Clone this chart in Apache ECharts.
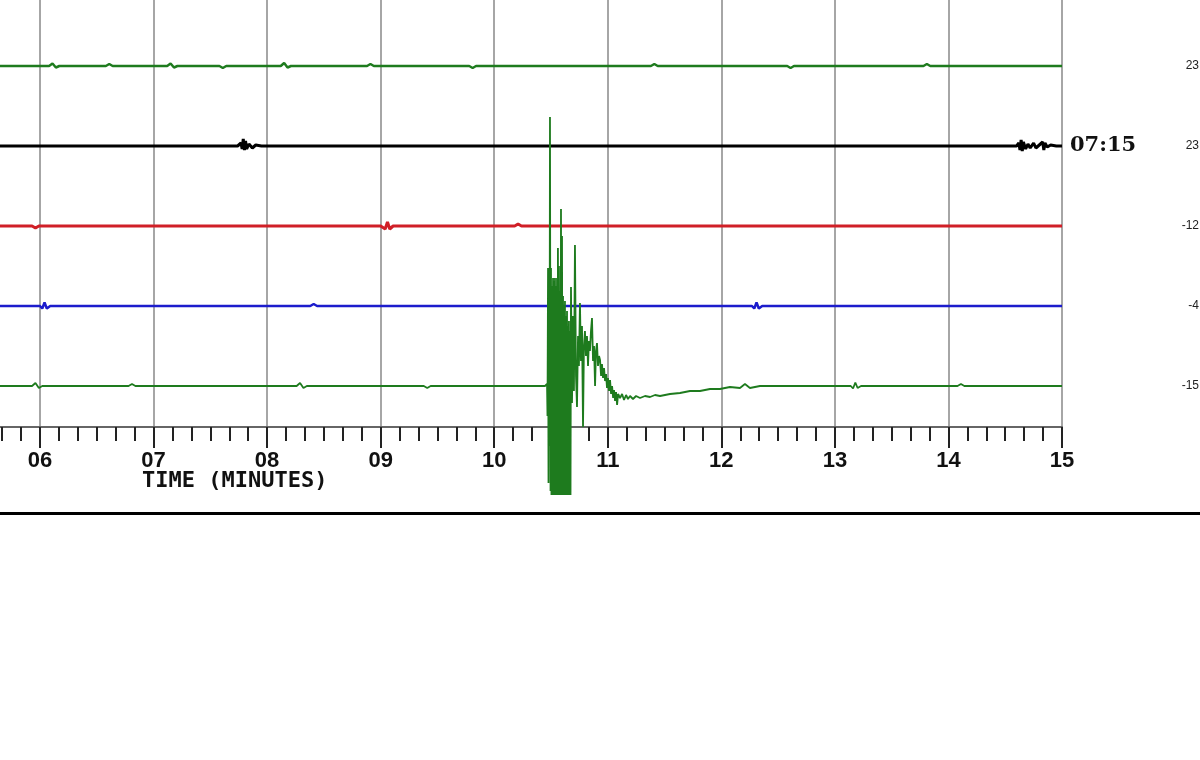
<!DOCTYPE html>
<html>
<head>
<meta charset="utf-8">
<script src="https://cdn.jsdelivr.net/npm/echarts@6/dist/echarts.min.js"></script>
<style>html,body{margin:0;padding:0;background:#fff;}#c{width:1200px;height:760px;}</style>
</head>
<body>
<div id="c"></div>
<script>
// ---- data (time in minutes, amplitude in counts relative to each trace's baseline) ----
const xMin = 5, xMax = 15;
const timeTitle = 'TIME (MINUTES)';
const clockLabel = '07:15';
// right-hand trace labels, top to bottom
const traceLabels = ['23', '23', '-12', '-4', '-15'];
// trace baselines (top to bottom)
const traceOffsets = [320, 240, 160, 80, 0];

const topGreen = [[5.6,0],[6.08,0],[6.11,2.5],[6.14,-1.5],[6.17,0],[6.58,0],[6.61,2],[6.64,0],[7.12,0],[7.15,2.5],[7.18,-1.5],[7.21,0],[7.58,0],[7.61,-2],[7.64,0],[8.12,0],[8.15,3],[8.18,-1.5],[8.21,0],[8.88,0],[8.91,2],[8.94,0],[9.78,0],[9.81,-2],[9.84,0],[11.38,0],[11.41,2],[11.44,0],[12.58,0],[12.61,-2],[12.64,0],[13.78,0],[13.81,2],[13.84,0],[15,0]];

const blackTrace = [[5.6,0],[7.74,0],[7.77,3],[7.78,-3],[7.79,7],[7.8,-4],[7.81,5],[7.82,-3],[7.84,2],[7.87,-2],[7.9,1],[7.95,0],[14.6,0],[14.62,3],[14.63,-4],[14.64,6],[14.65,-5],[14.66,4],[14.68,-3],[14.7,2],[14.72,-2],[14.75,3],[14.77,-2],[14.8,1],[14.83,4],[14.84,-4],[14.85,3],[14.87,-1],[14.9,1],[14.95,0],[15,0]];

const redTrace = [[5.6,0],[5.93,0],[5.96,-2],[5.99,0],[9.0,0],[9.04,-3],[9.06,4],[9.08,-3],[9.11,0],[10.18,0],[10.21,2],[10.24,0],[15,0]];

const blueTrace = [[5.6,0],[6.0,0],[6.02,-2.5],[6.04,3.5],[6.06,-2.5],[6.09,0],[8.38,0],[8.41,2],[8.44,0],[12.27,0],[12.29,-2.5],[12.31,3.5],[12.33,-2.5],[12.36,0],[15,0]];

const bottomPre = [[5.6,0],[5.93,0],[5.96,3],[5.99,-2],[6.02,0],[6.78,0],[6.81,2],[6.84,0],[8.26,0],[8.29,3],[8.32,-2],[8.35,0],[9.38,0],[9.41,-2],[9.44,0],[10.447,0]];

const quake = [[10.465,2],[10.469,-30],[10.474,118],[10.478,-97],[10.482,110],[10.487,-60],[10.491,269],[10.496,-105],[10.5,118],[10.504,-109],[10.509,100],[10.513,-109],[10.518,108],[10.522,-109],[10.526,105],[10.531,-109],[10.535,108],[10.54,-109],[10.544,100],[10.548,-109],[10.553,108],[10.557,-109],[10.561,138],[10.566,-109],[10.57,120],[10.575,-109],[10.579,95],[10.584,-109],[10.588,177],[10.592,-109],[10.597,150],[10.601,-109],[10.606,90],[10.61,-109],[10.614,80],[10.619,-109],[10.623,85],[10.628,-109],[10.632,70],[10.636,-109],[10.641,75],[10.645,-109],[10.65,60],[10.654,-109],[10.658,65],[10.663,-109],[10.667,55],[10.672,-109],[10.676,99],[10.685,-17],[10.694,70],[10.702,-5],[10.711,141],[10.72,10],[10.729,-21],[10.738,50],[10.746,20],[10.755,83],[10.764,25],[10.773,60],[10.782,-41],[10.79,40],[10.799,55],[10.808,30],[10.817,50],[10.826,20],[10.834,45],[10.843,35],[10.852,55],[10.861,68],[10.87,25],[10.879,40],[10.888,0],[10.896,35],[10.905,43],[10.914,20],[10.923,30],[10.932,26],[10.941,10],[10.949,22],[10.958,8],[10.967,18],[10.976,5],[10.985,12],[10.993,-2],[11.002,8],[11.011,-5],[11.02,6],[11.029,-8],[11.038,0],[11.047,-12],[11.055,-4],[11.064,-15],[11.073,-6],[11.082,-19],[11.091,-8],[11.108,-12],[11.126,-8],[11.143,-14],[11.161,-9],[11.178,-13],[11.196,-10],[11.222,-13],[11.249,-10],[11.284,-12],[11.328,-10],[11.372,-11],[11.416,-9],[11.46,-10],[11.548,-8],[11.636,-7],[11.724,-5],[11.812,-5],[11.9,-3],[11.988,-3],[12.076,-1],[12.164,-2],[12.208,2],[12.252,-2],[12.34,0]];

const bottomPost = [[13.14,0],[13.16,-2.5],[13.18,3.5],[13.2,-2],[13.23,0],[14.08,0],[14.11,2],[14.14,0],[15,0]];

// ---- chart ----
const traces = [
  { name: 'ch1', pts: topGreen, color: '#1e7b1e', width: 2.5 },
  { name: 'ch2', pts: blackTrace, color: '#000000', width: 3, end: true },
  { name: 'ch3', pts: redTrace, color: '#d01f27', width: 3 },
  { name: 'ch4', pts: blueTrace, color: '#1c1ccc', width: 2.5 },
  { name: 'ch5', pts: bottomPre.concat(quake, bottomPost), color: '#1e7b1e', width: 1.8 }
];

const yMin = -41, yMax = 386;

const series = traces.map((tr, i) => {
  const off = traceOffsets[i];
  const s = {
    type: 'line',
    name: tr.name,
    data: tr.pts.map(p => [p[0], off + p[1]]),
    showSymbol: false,
    symbol: 'none',
    clip: false,
    silent: true,
    lineStyle: { color: tr.color, width: tr.width },
    z: 5
  };
  if (tr.end) {
    s.endLabel = {
      show: true,
      formatter: clockLabel,
      distance: 8,
      color: '#111',
      fontFamily: 'DejaVu Serif',
      fontWeight: 'bold',
      fontSize: 21
    };
  }
  return s;
});

const chart = echarts.init(document.getElementById('c'), null, { renderer: 'canvas' });
chart.setOption({
  animation: false,
  backgroundColor: '#ffffff',
  title: {
    text: timeTitle,
    left: 142,
    top: 470,
    padding: 0,
    textStyle: { fontFamily: 'DejaVu Sans Mono', fontSize: 22, fontWeight: 'bold', color: '#111' }
  },
  grid: { left: -73.56, right: 138, top: 0, bottom: 333, containLabel: false, outerBoundsMode: 'none' },
  xAxis: {
    type: 'value',
    min: xMin,
    max: xMax,
    interval: 1,
    axisLine: { show: true, onZero: false, lineStyle: { color: '#666', width: 2 } },
    axisTick: { show: true, length: 21, lineStyle: { color: '#222', width: 2 } },
    minorTick: { show: true, splitNumber: 6, length: 14, lineStyle: { color: '#222', width: 2 } },
    splitLine: { show: true, lineStyle: { color: '#a6a6a6', width: 2 } },
    minorSplitLine: { show: false },
    axisLabel: {
      margin: 23,
      color: '#111',
      fontFamily: 'Liberation Sans',
      fontWeight: 'bold',
      fontSize: 22,
      formatter: v => (v < 10 ? '0' : '') + v
    }
  },
  yAxis: [
    {
      type: 'value', min: yMin, max: yMax, position: 'right',
      axisLine: { show: true, lineStyle: { color: '#a6a6a6', width: 2 } },
      axisTick: { show: false }, axisLabel: { show: false }, splitLine: { show: false }
    },
    {
      type: 'value', min: yMin, max: yMax, position: 'right', offset: 129,
      axisLine: { show: false }, axisTick: { show: false }, splitLine: { show: false },
      axisLabel: {
        show: true,
        customValues: traceOffsets,
        align: 'right',
        margin: 8,
        color: '#222',
        fontFamily: 'Liberation Sans',
        fontSize: 12,
        formatter: v => traceLabels[traceOffsets.indexOf(v)] ?? ''
      }
    }
  ],
  graphic: [
    { type: 'rect', shape: { x: 0, y: 512, width: 1200, height: 3 }, style: { fill: '#000' }, silent: true }
  ],
  series: series
});
</script>
</body>
</html>
